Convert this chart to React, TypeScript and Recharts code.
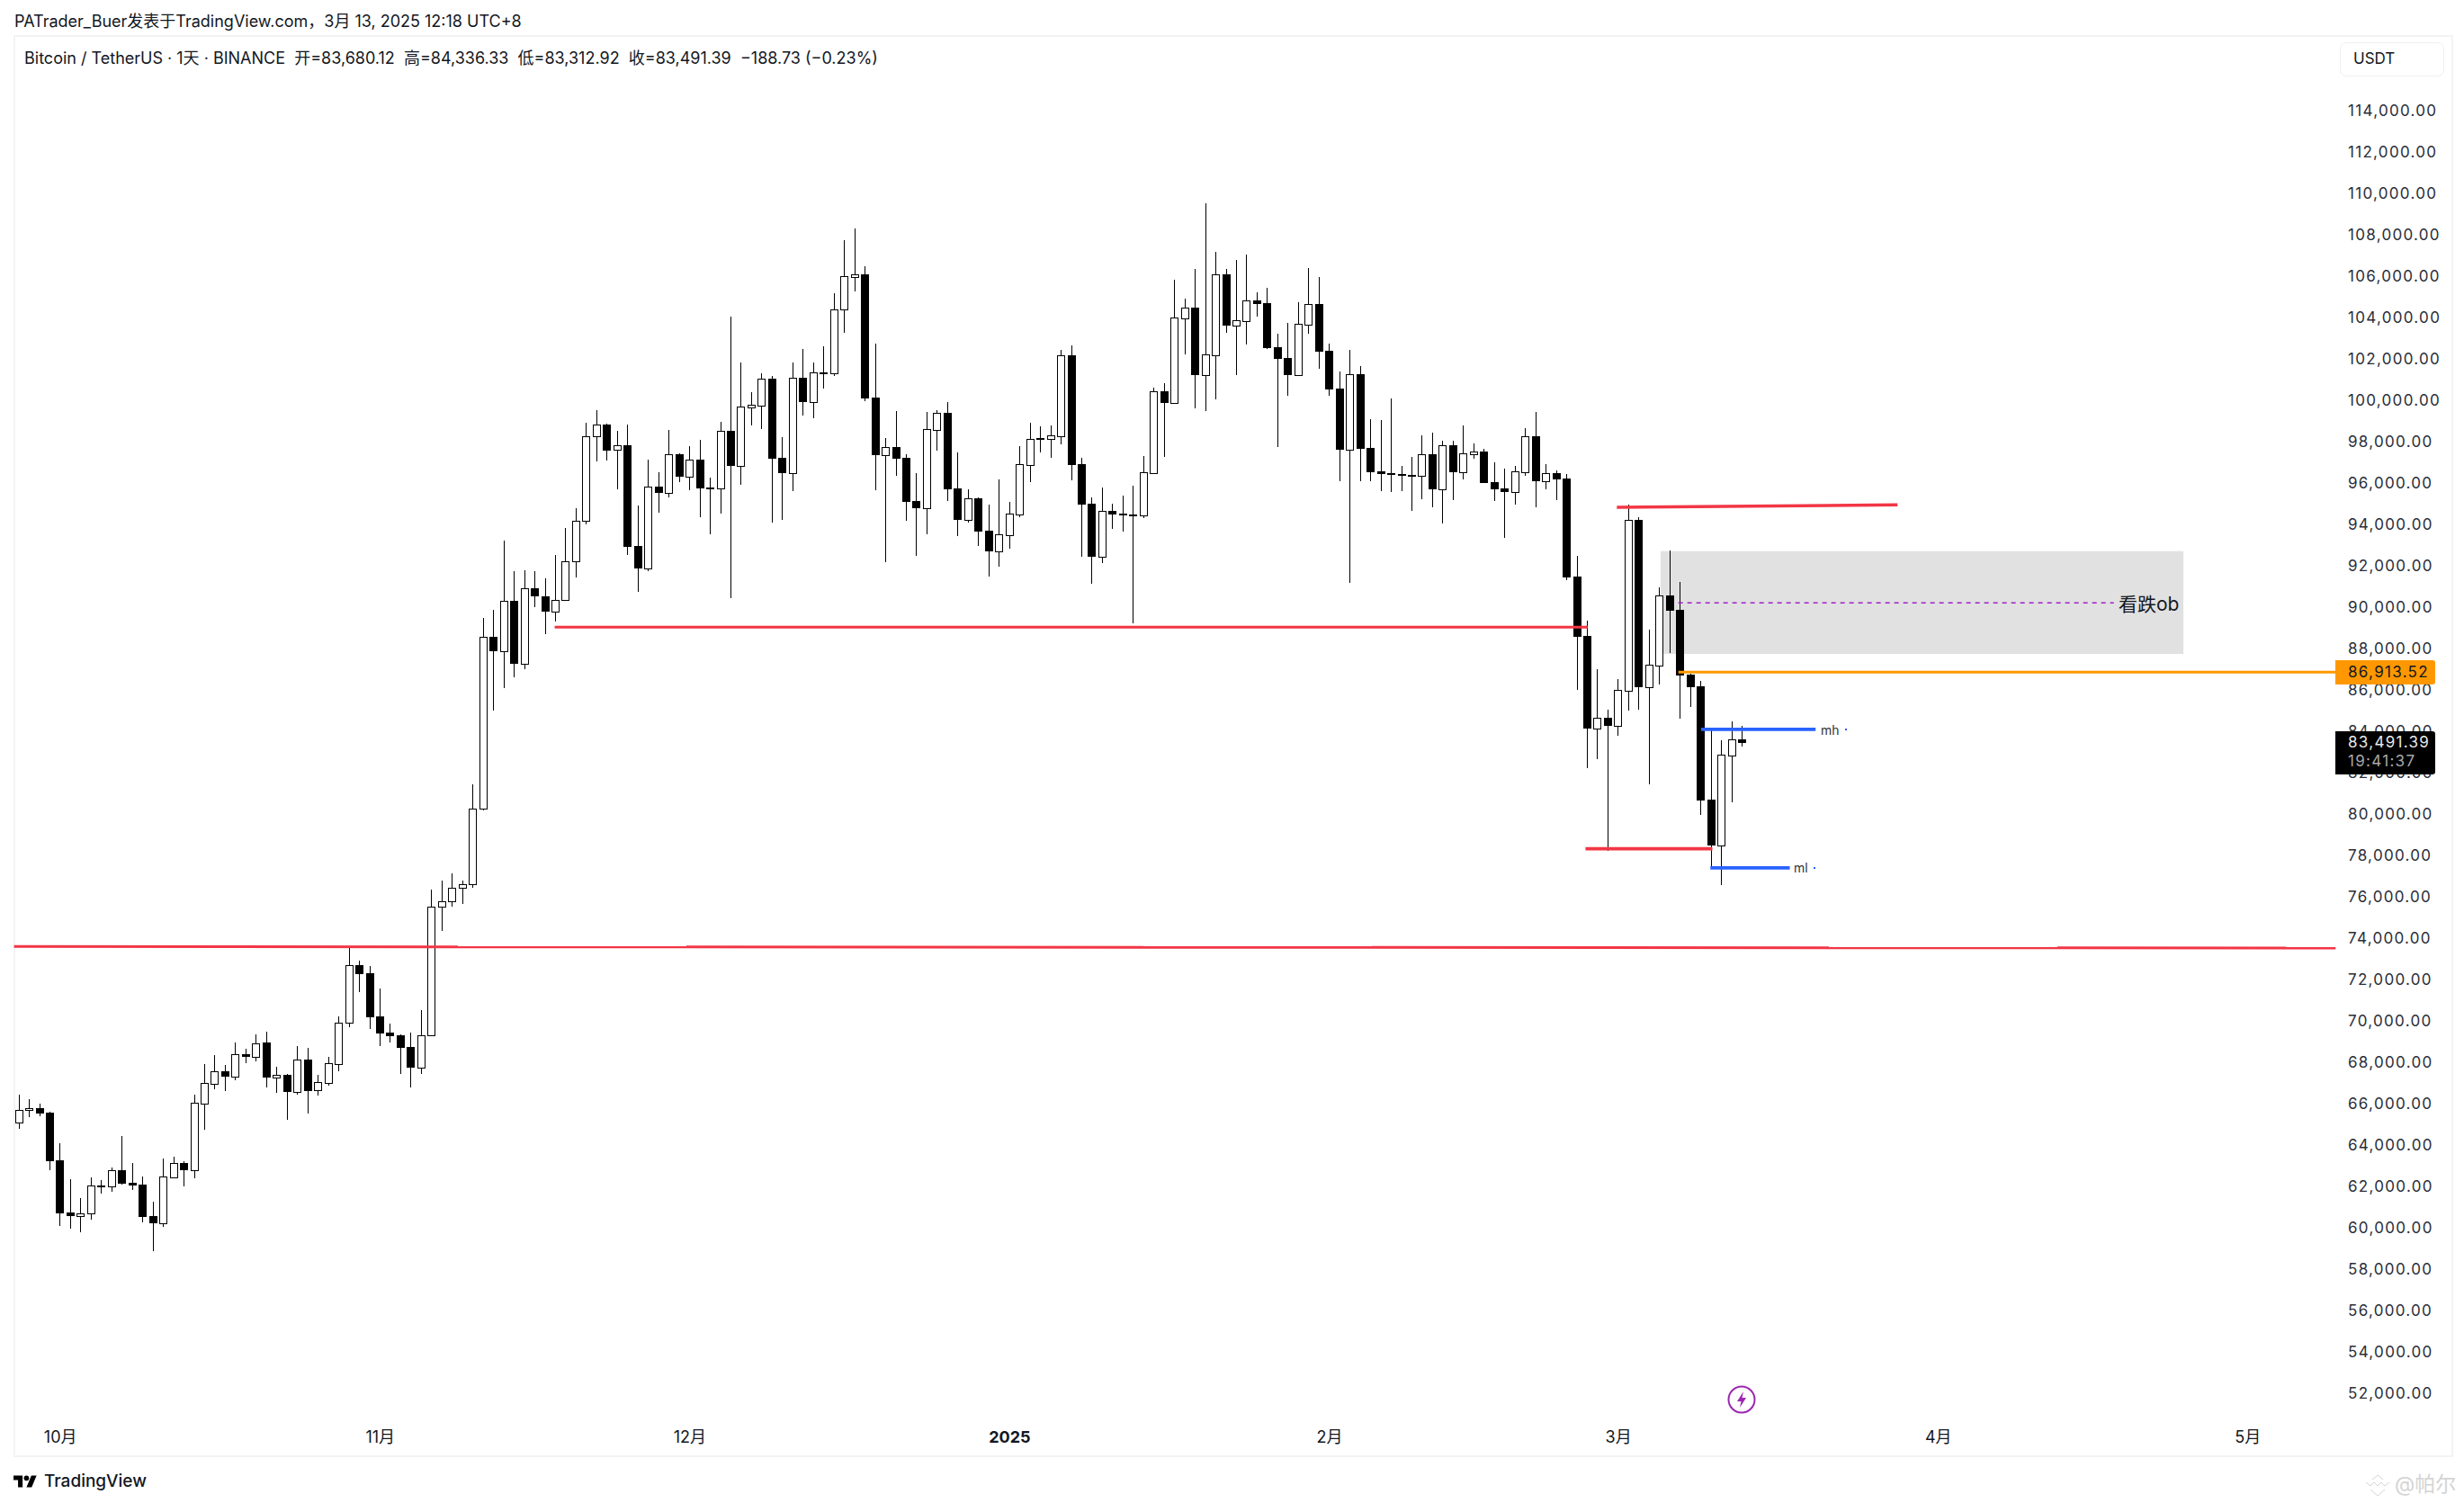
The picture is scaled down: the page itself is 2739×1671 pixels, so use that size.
import { Bar, ComposedChart, ReferenceArea, ReferenceLine, XAxis, YAxis } from "recharts";

const W = 2739;
const H = 1671;
const FUTURE_BARS = 57;
const FONT = "Inter, 'Noto Sans CJK SC', sans-serif";

// daily BTCUSDT candles, first bar is 2024-09-27
const opens = [
  65160, 65739, 65827, 65624, 63305, 60784, 60639, 60741, 62074, 62045, 62841, 62233, 62146, 60624, 60291, 62508, 63189, 62856, 66073, 67029,
  67623, 67377, 68449, 68333, 69014, 67333, 67449, 66638, 68188, 66696, 67073, 67985, 69956, 72753, 72361, 70275, 69492, 69362, 68797, 67812,
  69347, 75564, 75825, 76470, 76644, 80332, 88640, 87941, 90348, 87300, 90988, 90561, 89824, 90425, 92289, 94249, 98305, 98885, 97653, 97885,
  93017, 91944, 95886, 95596, 97451, 96378, 97190, 95815, 95813, 98580, 96900, 99725, 99812, 101102, 97277, 96538, 101145, 99986, 101378, 101378,
  104435, 106029, 106144, 100189, 97421, 97798, 97277, 95190, 94857, 98639, 99450, 95798, 94292, 95320, 93755, 92770, 93553, 94553, 96943, 98218,
  98204, 98335, 102232, 96972, 95060, 92510, 94712, 94582, 94510, 94509, 96552, 100493, 99943, 104029, 104536, 101290, 102247, 106145, 103681, 103899,
  104884, 104753, 102623, 102102, 101290, 103725, 104710, 102450, 100624, 97682, 101319, 97755, 96625, 96538, 96494, 96420, 96422, 97451, 95770, 97885,
  96594, 97464, 97580, 96101, 95797, 95638, 96594, 98318, 96159, 96536, 96275, 91536, 88668, 84205, 84712, 84335, 86030, 94275, 86204, 87247,
  90624, 89928, 86798, 86233, 80756, 78554, 82900, 83680.12,
];
const highs = [
  66493, 66276, 66044, 65660, 64146, 62407, 61494, 62494, 62349, 62957, 64493, 63189, 62537, 61320, 63407, 63494, 63276, 66493, 67971, 68406,
  67928, 69014, 68710, 69405, 69536, 67840, 67493, 68840, 68753, 67449, 68319, 70275, 73651, 72970, 72709, 71622, 69927, 69405, 69492, 70579,
  76404, 76819, 77188, 76857, 81496, 89533, 89921, 93279, 91803, 91842, 91803, 91454, 92580, 93880, 94831, 98972, 99580, 98928, 98581, 98870,
  94973, 97190, 96581, 98624, 97480, 97842, 98146, 96320, 99015, 104101, 101884, 100450, 101363, 101232, 98276, 101884, 102536, 101884, 102667, 105232,
  107796, 108361, 106536, 102797, 98233, 99537, 97436, 96538, 99493, 99580, 99972, 97537, 95755, 95340, 95016, 96233, 95146, 97842, 98972, 98798,
  98842, 102493, 102711, 97277, 95364, 95842, 95060, 95451, 95929, 97364, 100667, 100885, 105884, 104971, 106405, 109579, 107231, 106405, 106840, 107101,
  105275, 105493, 103275, 103797, 104797, 106449, 106014, 102797, 101450, 102493, 101711, 99146, 99103, 100146, 96886, 97320, 98363, 98494, 98103, 98103,
  98840, 97971, 97695, 97058, 96754, 96884, 98710, 99492, 96971, 96666, 96493, 92536, 89406, 87059, 85103, 86581, 95014, 94406, 88972, 91015,
  92797, 91276, 86827, 86494, 84190, 83625, 84538, 84336.33,
];
const lows = [
  64841, 65421, 65464, 62841, 60146, 60016, 59842, 60451, 61711, 61798, 62146, 61885, 60320, 58929, 60103, 62508, 62059, 62450, 64798, 66754,
  66667, 67189, 68014, 68101, 66841, 66580, 65276, 66493, 65580, 66449, 66928, 67623, 69753, 71448, 69666, 68840, 69014, 67493, 66841, 67493,
  69300, 74405, 75557, 75712, 76508, 80235, 85049, 86136, 86680, 87067, 90056, 88736, 89358, 90367, 91493, 94055, 97117, 97161, 95755, 92582,
  90814, 91814, 94625, 95364, 96103, 95712, 94407, 93582, 94581, 90495, 95972, 98841, 98668, 94147, 94277, 95668, 99320, 99189, 100624, 101232,
  103319, 105318, 100015, 95712, 92234, 96407, 94234, 92538, 93582, 97624, 95190, 93495, 94147, 93017, 91538, 92017, 92886, 94407, 96103, 97537,
  97277, 97929, 96190, 92495, 91191, 92191, 93842, 93712, 89278, 94365, 96494, 97320, 99943, 102276, 99667, 99537, 100102, 103319, 101276, 102754,
  104101, 102536, 97798, 100276, 101290, 103276, 101580, 100276, 96147, 91234, 96147, 96147, 95668, 95625, 95668, 94712, 95277, 94886, 94103, 95234,
  96232, 97232, 96058, 95188, 93406, 95014, 96406, 94884, 95754, 95232, 91363, 86059, 82277, 82712, 78278, 83842, 85059, 85103, 81495, 86320,
  87841, 84668, 85233, 80017, 77452, 76626, 80626, 83312.92,
];
const closes = [
  65739, 65827, 65595, 63291, 60769, 60639, 60741, 62088, 62103, 62827, 62204, 62103, 60596, 60291, 62523, 63175, 62856, 66087, 67044, 67609,
  67362, 68435, 68319, 68980, 67319, 67435, 66623, 68174, 66667, 67087, 68000, 69956, 72738, 72318, 70231, 69449, 69318, 68753, 67797, 69347,
  75564, 75825, 76470, 76644, 80332, 88640, 87941, 90348, 87300, 90988, 90561, 89824, 90425, 92289, 94249, 98306, 98870, 97625, 97871, 92973,
  91944, 95871, 95596, 97436, 96378, 97175, 95813, 95840, 98566, 96885, 99740, 99827, 101087, 97233, 96538, 101131, 99972, 101392, 101392, 104435,
  106043, 106130, 100160, 97407, 97784, 97233, 95146, 94842, 98653, 99436, 95755, 94277, 95306, 93712, 92756, 93567, 94567, 96958, 98175, 98146,
  98349, 102218, 96929, 95016, 92495, 94698, 94538, 94495, 94524, 96567, 100479, 99928, 104044, 104522, 101276, 102261, 106130, 103667, 103913, 104870,
  104710, 102580, 102058, 101276, 103739, 104696, 102406, 100581, 97668, 101305, 97711, 96581, 96494, 96451, 96407, 96436, 97436, 95755, 97871, 96581,
  97478, 97565, 96058, 95754, 95623, 96609, 98304, 96145, 96522, 96232, 91493, 88624, 84190, 84697, 84320, 86045, 94261, 86190, 87262, 90609,
  89885, 86755, 86190, 80712, 78539, 82915, 83654, 83491.39,
];

const priceTicks = [
  52000, 54000, 56000, 58000, 60000, 62000, 64000, 66000, 68000, 70000, 72000, 74000, 76000, 78000, 80000, 82000,
  84000, 86000, 88000, 90000, 92000, 94000, 96000, 98000, 100000, 102000, 104000, 106000, 108000, 110000, 112000, 114000,
];
const monthBars = [4, 35, 65, 96, 127, 155, 186, 216];
const monthLabels = ["10月", "11月", "12月", "2025", "2月", "3月", "4月", "5月"];

// drawn annotations, "from/to" in bar numbers along the time scale
const ORANGE_PRICE = 86913.52;
const orangeLine = { from: 160.8, to: 224.5 };
const longRed = { from: -0.5, to: 224.5, start: 73652, end: 73578 };
const supportRed = { from: 51.9, to: 152, price: 89088 };
const topRed = { from: 154.84, to: 182.04, start: 94884, end: 95000 };
const lowRed = { from: 151.8, to: 164.1, price: 78379 };
const mhLine = { from: 163, to: 174.1, price: 84147 };
const mlLine = { from: 163.9, to: 171.6, price: 77452 };
const obBox = { from: 159.08, to: 209.75, top: 92768, bottom: 87798, mid: 90261, midFrom: 160.8, midEnd: 203 };

const rows = Array.from({ length: opens.length + FUTURE_BARS }, (_, i) => ({
  idx: i,
  open: opens[i],
  high: highs[i],
  low: lows[i],
  close: closes[i],
}));

function Candle(props: any) {
  const { x, y, width, height, payload } = props;
  if (!payload || payload.high == null) return null;
  const { open, close, high, low } = payload;
  const cx = Math.floor(x + width / 2) + 0.5;
  const unit = height / (high - low);
  const top = Math.round(y + (high - Math.max(open, close)) * unit);
  const bottom = Math.round(y + (high - Math.min(open, close)) * unit);
  const up = close >= open;
  return (
    <g>
      <line x1={cx} x2={cx} y1={y} y2={y + height} stroke="#000" strokeWidth={1} shapeRendering="crispEdges" />
      {up ? (
        <rect x={cx - 4} y={top + 0.5} width={8} height={Math.max(bottom - top, 1)} fill="#fff" stroke="#000" strokeWidth={1} shapeRendering="crispEdges" />
      ) : (
        <rect x={cx - 4.5} y={top} width={9} height={Math.max(bottom - top, 1)} fill="#000" shapeRendering="crispEdges" />
      )}
    </g>
  );
}

function PriceTick({ y, payload }: any) {
  return (
    <text x={2610} y={y - 1.5} dy="0.36em" fontFamily={FONT} fontSize={17} letterSpacing={1.3} fill="#2a2e39">
      {payload.value.toLocaleString("en-US", { minimumFractionDigits: 2 })}
    </text>
  );
}

function MonthTick({ x, y, payload }: any) {
  const label = monthLabels[monthBars.indexOf(payload.value)];
  return (
    <text x={x} y={y + 12} textAnchor="middle" dy="0.36em" fontFamily={FONT} fontSize={18} fontWeight={label === "2025" ? 700 : 400} fill="#131722">
      {label}
    </text>
  );
}

function Label({ x, y, size = 18, color = "#131722", children }: any) {
  return (
    <div style={{ position: "absolute", left: x, top: y, transform: "translateY(-50%)", fontFamily: FONT, fontSize: size, color, whiteSpace: "pre", lineHeight: 1 }}>
      {children}
    </div>
  );
}

function Box({ x, y, w, h, bg }: any) {
  return <div style={{ position: "absolute", left: x, top: y, width: w, height: h, background: bg, borderRadius: "0 3px 3px 0" }} />;
}

export default function App() {
  return (
    <div style={{ position: "absolute", left: 0, top: 0, width: W, height: H, background: "#fff", overflow: "hidden" }}>
      <div style={{ position: "absolute", left: 15, top: 39, width: 2708, height: 1577, border: "2px solid #f3f3f3" }} />
      <div style={{ position: "absolute", left: 0, top: 0 }}>
        <ComposedChart width={W} height={H} data={rows} barCategoryGap={0} margin={{ top: 40, right: 15, bottom: 54, left: 15.57 }}>
          <XAxis dataKey="idx" type="category" height={37} ticks={monthBars} interval={0} tick={<MonthTick />} tickLine={false} axisLine={false} tickMargin={0} />
          <XAxis xAxisId="pos" dataKey="idx" type="number" domain={[-0.5, 224.5]} hide allowDataOverflow />
          <YAxis orientation="right" width={127.7} domain={[50709, 117665]} ticks={priceTicks} interval={0} tick={<PriceTick />} tickLine={false} axisLine={false} allowDataOverflow />

          <ReferenceArea xAxisId="pos" x1={obBox.from} x2={obBox.to} y1={obBox.bottom} y2={obBox.top} fill="#e1e1e1" fillOpacity={1} stroke="none" />
          <ReferenceLine xAxisId="pos" segment={[{ x: obBox.midFrom, y: obBox.mid }, { x: obBox.midEnd, y: obBox.mid }]} stroke="#a020c8" strokeWidth={1.4} strokeDasharray="5 5" />
          <ReferenceLine xAxisId="pos" ifOverflow="visible" segment={[{ x: longRed.from, y: longRed.start }, { x: longRed.to, y: longRed.end }]} stroke="#f23645" strokeWidth={3} />
          <ReferenceLine xAxisId="pos" segment={[{ x: supportRed.from, y: supportRed.price }, { x: supportRed.to, y: supportRed.price }]} stroke="#f23645" strokeWidth={3} />
          <ReferenceLine xAxisId="pos" segment={[{ x: topRed.from, y: topRed.start }, { x: topRed.to, y: topRed.end }]} stroke="#f23645" strokeWidth={3.6} />
          <ReferenceLine xAxisId="pos" segment={[{ x: lowRed.from, y: lowRed.price }, { x: lowRed.to, y: lowRed.price }]} stroke="#f23645" strokeWidth={3.6} />

          <Bar dataKey={(d: any) => (d.high == null ? null : [d.low, d.high])} shape={<Candle />} isAnimationActive={false} />

          <ReferenceLine xAxisId="pos" ifOverflow="visible" segment={[{ x: orangeLine.from, y: ORANGE_PRICE }, { x: orangeLine.to, y: ORANGE_PRICE }]} stroke="#ff9800" strokeWidth={3} zIndex={700} />
          <ReferenceLine xAxisId="pos" segment={[{ x: mhLine.from, y: mhLine.price }, { x: mhLine.to, y: mhLine.price }]} stroke="#2962ff" strokeWidth={3.6} zIndex={700} />
          <ReferenceLine xAxisId="pos" segment={[{ x: mlLine.from, y: mlLine.price }, { x: mlLine.to, y: mlLine.price }]} stroke="#2962ff" strokeWidth={3.6} zIndex={700} />
        </ComposedChart>
      </div>

      <Label x={16} y={24}>PATrader_Buer发表于TradingView.com，3月 13, 2025 12:18 UTC+8</Label>
      <Label x={27} y={65}>Bitcoin / TetherUS · 1天 · BINANCE  开=83,680.12  高=84,336.33  低=83,312.92  收=83,491.39  −188.73 (−0.23%)</Label>

      <div style={{ position: "absolute", left: 2601, top: 47, width: 114, height: 36, border: "1px solid #f0f0f0", borderRadius: 7 }} />
      <Label x={2616} y={65} size={17}>USDT</Label>

      <Label x={2355} y={671} size={21}>看跌ob</Label>
      <Label x={2024} y={812} size={14} color="#333">mh</Label>
      <Label x={1994} y={965} size={14} color="#333">ml</Label>
      <div style={{ position: "absolute", left: 2051, top: 810, width: 2, height: 2, background: "#2962ff" }} />
      <div style={{ position: "absolute", left: 2016, top: 964, width: 2, height: 2, background: "#2962ff" }} />

      <Box x={2596} y={734} w={111} h={27} bg="#ff9800" />
      <Label x={2610} y={747} size={17}><span style={{ letterSpacing: 1.3 }}>86,913.52</span></Label>
      <Box x={2596} y={813} w={111} h={48} bg="#000" />
      <Label x={2610} y={825} size={17} color="#e8e8e8"><span style={{ letterSpacing: 1.3 }}>83,491.39</span></Label>
      <Label x={2610} y={846} size={17} color="#a8a8a8"><span style={{ letterSpacing: 1.3 }}>19:41:37</span></Label>

      <svg style={{ position: "absolute", left: 1920, top: 1540 }} width={32} height={32} viewBox="0 0 32 32">
        <circle cx={16} cy={16} r={14.5} fill="none" stroke="#9c27b0" strokeWidth={2} />
        <path d="M18 7 L11 18 H15.5 L14 25 L21 14 H16.5 Z" fill="#9c27b0" />
      </svg>

      <svg style={{ position: "absolute", left: 15, top: 1636 }} width={26} height={19} viewBox="0 0 36 26">
        <path d="M14 24H7V13H0V6h14v18zM28 24h-8l7.5-18h8L28 24z" fill="#000" />
        <circle cx={20} cy={10} r={4} fill="#000" />
      </svg>
      <Label x={49} y={1646} size={19} color="#131722"><span style={{ fontWeight: 500 }}>TradingView</span></Label>

      <svg style={{ position: "absolute", left: 2628, top: 1638 }} width={30} height={26} viewBox="0 0 30 26" fill="none" stroke="#d4d4d4" strokeWidth={1}>
        <path d="M9 7 L15 2 L21 7" />
        <path d="M2 10 L7 14 L11 10 L15 14 L19 10 L23 14 L28 10" />
        <path d="M7 18 L15 25 L23 18" />
      </svg>
      <Label x={2662} y={1650} size={23} color="#d4d4d4">@帕尔</Label>
    </div>
  );
}
